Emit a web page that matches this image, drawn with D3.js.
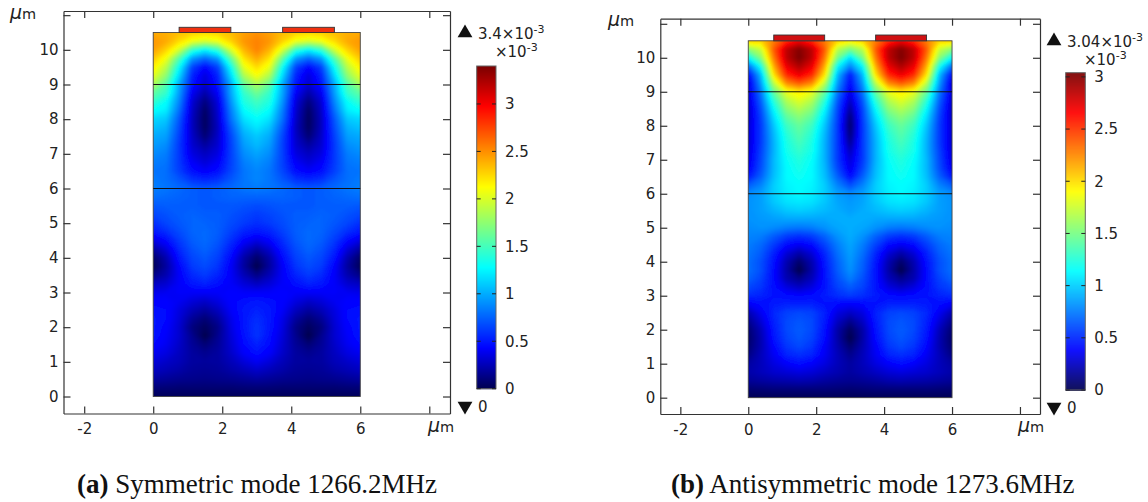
<!DOCTYPE html>
<html>
  <head>
    <meta charset="UTF-8">
    <title>Symmetric and antisymmetric modes</title>
    <script src="https://d3js.org/d3.v7.min.js"></script>
    <style>
      body { margin: 0; background: #fff; }
      text { font-family: "DejaVu Sans", sans-serif; fill: #222; }
      .caption { font-family: "Liberation Serif", serif; font-size: 27px; fill: #111; }
    </style>
  </head>
  <body>
    <svg width="1148" height="502"></svg>

    <script>

// displacement, in units of 1e-3, top row is y = 10.5 and
// each row steps 0.25 um down. columns are xHalf, the right half mirrors them.
const xHalf = [0, 0.375, 0.75, 1.125, 1.5, 1.875, 2.25, 2.625, 3];
const yRows = d3.range(0, 43).map(i => 10.5 - i * 0.25);

const fieldA = [
  [2.42, 2.40, 2.35, 2.30, 2.28, 2.30, 2.36, 2.45, 2.50],
  [2.48, 2.42, 2.25, 2.08, 2.00, 2.08, 2.28, 2.48, 2.55],
  [2.45, 2.28, 1.98, 1.45, 1.25, 1.45, 2.00, 2.38, 2.55],
  [2.32, 2.08, 1.55, 0.95, 0.78, 0.95, 1.60, 2.22, 2.42],
  [2.18, 1.90, 1.30, 0.65, 0.45, 0.65, 1.30, 2.05, 2.25],
  [2.05, 1.75, 1.15, 0.55, 0.35, 0.55, 1.15, 1.85, 2.10],
  [1.85, 1.55, 1.00, 0.50, 0.32, 0.50, 1.00, 1.60, 1.85],
  [1.60, 1.45, 0.95, 0.40, 0.22, 0.42, 0.98, 1.45, 1.65],
  [1.45, 1.30, 0.88, 0.33, 0.12, 0.35, 0.92, 1.38, 1.50],
  [1.30, 1.22, 0.80, 0.30, 0.06, 0.32, 0.85, 1.28, 1.40],
  [1.15, 1.10, 0.72, 0.28, 0.04, 0.30, 0.80, 1.18, 1.28],
  [1.08, 1.02, 0.68, 0.28, 0.05, 0.28, 0.72, 1.08, 1.20],
  [1.00, 0.96, 0.64, 0.30, 0.10, 0.30, 0.66, 1.00, 1.10],
  [0.95, 0.90, 0.62, 0.32, 0.20, 0.32, 0.64, 0.95, 1.05],
  [0.90, 0.85, 0.62, 0.36, 0.28, 0.36, 0.64, 0.90, 0.98],
  [0.85, 0.82, 0.62, 0.42, 0.34, 0.42, 0.64, 0.85, 0.92],
  [0.82, 0.80, 0.64, 0.48, 0.42, 0.48, 0.66, 0.82, 0.88],
  [0.84, 0.80, 0.72, 0.60, 0.56, 0.60, 0.72, 0.82, 0.88],
  [0.85, 0.82, 0.78, 0.74, 0.72, 0.74, 0.78, 0.82, 0.84],
  [0.80, 0.78, 0.76, 0.74, 0.72, 0.74, 0.76, 0.76, 0.76],
  [0.72, 0.74, 0.74, 0.74, 0.72, 0.72, 0.72, 0.70, 0.68],
  [0.66, 0.70, 0.74, 0.76, 0.74, 0.74, 0.70, 0.66, 0.62],
  [0.58, 0.66, 0.72, 0.76, 0.76, 0.74, 0.68, 0.62, 0.58],
  [0.50, 0.58, 0.68, 0.76, 0.78, 0.74, 0.64, 0.54, 0.50],
  [0.36, 0.46, 0.62, 0.74, 0.78, 0.72, 0.58, 0.44, 0.36],
  [0.20, 0.34, 0.56, 0.70, 0.76, 0.68, 0.52, 0.32, 0.20],
  [0.07, 0.24, 0.50, 0.66, 0.72, 0.64, 0.46, 0.22, 0.07],
  [0.03, 0.20, 0.44, 0.62, 0.68, 0.60, 0.42, 0.20, 0.00],
  [0.14, 0.24, 0.42, 0.56, 0.62, 0.54, 0.42, 0.26, 0.14],
  [0.28, 0.32, 0.42, 0.50, 0.54, 0.48, 0.42, 0.34, 0.28],
  [0.38, 0.40, 0.42, 0.42, 0.42, 0.42, 0.44, 0.42, 0.42],
  [0.44, 0.44, 0.40, 0.34, 0.30, 0.36, 0.44, 0.48, 0.50],
  [0.48, 0.46, 0.36, 0.26, 0.20, 0.28, 0.42, 0.50, 0.54],
  [0.50, 0.46, 0.34, 0.18, 0.10, 0.20, 0.38, 0.50, 0.58],
  [0.50, 0.44, 0.32, 0.12, 0.04, 0.14, 0.36, 0.50, 0.60],
  [0.50, 0.42, 0.32, 0.16, 0.00, 0.16, 0.34, 0.48, 0.60],
  [0.46, 0.40, 0.30, 0.18, 0.10, 0.18, 0.32, 0.46, 0.54],
  [0.40, 0.36, 0.28, 0.20, 0.16, 0.20, 0.30, 0.42, 0.48],
  [0.34, 0.30, 0.26, 0.20, 0.19, 0.20, 0.26, 0.34, 0.40],
  [0.28, 0.25, 0.22, 0.18, 0.17, 0.18, 0.22, 0.26, 0.30],
  [0.20, 0.18, 0.16, 0.15, 0.14, 0.15, 0.16, 0.18, 0.20],
  [0.10, 0.10, 0.09, 0.09, 0.09, 0.09, 0.09, 0.10, 0.10],
  [0.03, 0.03, 0.03, 0.03, 0.03, 0.03, 0.03, 0.03, 0.03]
];

const fieldB = [
  [2.05, 2.05, 2.30, 2.55, 2.70, 2.55, 2.30, 2.05, 1.95],
  [1.55, 1.75, 2.40, 2.85, 3.02, 2.85, 2.40, 1.70, 1.50],
  [1.15, 1.55, 2.30, 2.85, 3.04, 2.85, 2.30, 1.50, 1.05],
  [0.70, 1.20, 2.15, 2.72, 2.90, 2.72, 2.15, 1.15, 0.78],
  [0.40, 0.95, 1.98, 2.55, 2.72, 2.55, 1.98, 0.95, 0.46],
  [0.30, 0.85, 1.70, 2.25, 2.40, 2.25, 1.70, 0.85, 0.40],
  [0.30, 0.75, 1.45, 1.85, 1.96, 1.85, 1.45, 0.75, 0.34],
  [0.28, 0.68, 1.28, 1.68, 1.82, 1.68, 1.28, 0.66, 0.26],
  [0.26, 0.62, 1.15, 1.55, 1.68, 1.55, 1.15, 0.60, 0.18],
  [0.26, 0.58, 1.05, 1.42, 1.55, 1.42, 1.05, 0.58, 0.10],
  [0.28, 0.56, 0.98, 1.32, 1.45, 1.32, 0.98, 0.56, 0.07],
  [0.28, 0.56, 0.94, 1.26, 1.40, 1.26, 0.94, 0.56, 0.10],
  [0.28, 0.56, 0.92, 1.22, 1.35, 1.22, 0.92, 0.56, 0.16],
  [0.30, 0.58, 0.92, 1.20, 1.30, 1.20, 0.92, 0.56, 0.24],
  [0.32, 0.60, 0.94, 1.16, 1.25, 1.16, 0.92, 0.56, 0.30],
  [0.36, 0.62, 0.94, 1.14, 1.22, 1.14, 0.94, 0.60, 0.34],
  [0.46, 0.68, 0.96, 1.14, 1.18, 1.14, 0.96, 0.68, 0.42],
  [0.66, 0.78, 1.00, 1.12, 1.15, 1.12, 1.00, 0.78, 0.62],
  [0.80, 0.86, 1.00, 1.10, 1.14, 1.10, 1.00, 0.86, 0.80],
  [0.82, 0.86, 0.98, 1.06, 1.08, 1.06, 0.98, 0.88, 0.84],
  [0.82, 0.86, 0.92, 0.98, 1.00, 0.98, 0.94, 0.90, 0.86],
  [0.82, 0.84, 0.86, 0.88, 0.88, 0.88, 0.88, 0.90, 0.90],
  [0.80, 0.82, 0.80, 0.76, 0.74, 0.76, 0.82, 0.88, 0.90],
  [0.78, 0.76, 0.66, 0.56, 0.52, 0.56, 0.68, 0.82, 0.90],
  [0.76, 0.70, 0.56, 0.42, 0.36, 0.42, 0.58, 0.76, 0.88],
  [0.74, 0.66, 0.48, 0.30, 0.20, 0.30, 0.50, 0.72, 0.86],
  [0.72, 0.62, 0.44, 0.22, 0.07, 0.22, 0.46, 0.68, 0.84],
  [0.72, 0.62, 0.42, 0.20, 0.00, 0.20, 0.44, 0.66, 0.82],
  [0.68, 0.58, 0.42, 0.22, 0.14, 0.24, 0.44, 0.62, 0.76],
  [0.60, 0.54, 0.42, 0.32, 0.26, 0.32, 0.44, 0.58, 0.66],
  [0.52, 0.48, 0.44, 0.42, 0.40, 0.42, 0.46, 0.52, 0.56],
  [0.36, 0.42, 0.46, 0.48, 0.48, 0.48, 0.44, 0.40, 0.38],
  [0.22, 0.36, 0.50, 0.58, 0.60, 0.58, 0.48, 0.32, 0.26],
  [0.14, 0.30, 0.48, 0.60, 0.64, 0.60, 0.46, 0.26, 0.14],
  [0.08, 0.24, 0.46, 0.60, 0.66, 0.60, 0.44, 0.20, 0.04],
  [0.06, 0.22, 0.44, 0.58, 0.64, 0.58, 0.42, 0.20, 0.00],
  [0.08, 0.22, 0.40, 0.54, 0.60, 0.54, 0.38, 0.22, 0.08],
  [0.12, 0.24, 0.36, 0.48, 0.52, 0.48, 0.36, 0.24, 0.14],
  [0.18, 0.24, 0.32, 0.38, 0.42, 0.38, 0.32, 0.24, 0.18],
  [0.20, 0.24, 0.28, 0.30, 0.32, 0.30, 0.26, 0.22, 0.18],
  [0.16, 0.18, 0.20, 0.21, 0.22, 0.21, 0.18, 0.16, 0.15],
  [0.08, 0.09, 0.10, 0.10, 0.10, 0.10, 0.10, 0.09, 0.08],
  [0.02, 0.02, 0.02, 0.02, 0.02, 0.02, 0.02, 0.02, 0.02]
];

const xTicks = [-2, 0, 2, 4, 6, 8];
const xLabels = [-2, 0, 2, 4, 6];
const yTicks = [0, 1, 2, 3, 4, 5, 6, 7, 8, 9, 10, 11];
const yLabels = [0, 1, 2, 3, 4, 5, 6, 7, 8, 9, 10];
const layerLines = [9, 6];
const electrodes = [[0.75, 2.25], [3.75, 5.25]];
const barTicksA = [0, 0.5, 1, 1.5, 2, 2.5, 3];
const barTicksB = [0, 0.5, 1, 1.5, 2, 2.5, 3];

const svg = d3.select("svg");
const defs = svg.append("defs");

defs.append("filter").attr("id", "soft")
  .attr("x", "-5%").attr("y", "-5%").attr("width", "110%").attr("height", "110%")
  .append("feGaussianBlur").attr("stdDeviation", 1.6);

function jet(max) {
  return d3.scaleLinear()
    .domain([0, 0.125, 0.375, 0.625, 0.875, 1].map(f => f * max))
    .range(["#000050", "#0000ff", "#00ffff", "#ffff00", "#ff0000", "#7a0000"])
    .clamp(true);
}

function drawPanel(p) {
  const x = d3.scaleLinear().domain(p.xDomain).range([p.left, p.right]);
  const y = d3.scaleLinear().domain(p.yDomain).range([p.bottom, p.top]);
  const color = jet(p.max);
  const g = svg.append("g");

  // mirror the half field into the full 0..6 width
  const full = p.field.map(row => row.concat(row.slice(0, -1).reverse()));
  const nx = full[0].length;
  const dx = xHalf[1] - xHalf[0];
  const dy = yRows[0] - yRows[1];

  const toPixels = d3.geoTransform({
    point(gx, gy) {
      this.stream.point(x((gx - 0.5) * dx), y(yRows[0] - (gy - 0.5) * dy));
    }
  });

  const thresholds = d3.range(0.01, p.max, 0.015);
  const contours = d3.contours()
    .size([nx, full.length])
    .thresholds(thresholds)(full.flat());

  defs.append("clipPath").attr("id", p.id)
    .append("rect")
    .attr("x", x(0)).attr("y", y(10.5))
    .attr("width", x(6) - x(0)).attr("height", y(0) - y(10.5));

  const field = g.append("g").attr("clip-path", `url(#${p.id})`)
    .append("g").attr("filter", "url(#soft)");
  field.append("rect")
    .attr("x", x(0) - 10).attr("y", y(10.5) - 10)
    .attr("width", x(6) - x(0) + 20).attr("height", y(0) - y(10.5) + 20)
    .attr("fill", color(0));
  field.selectAll("path")
    .data(contours)
    .join("path")
    .attr("d", d3.geoPath(toPixels))
    .attr("fill", d => color(d.value));

  // geometry outline
  g.append("rect")
    .attr("x", x(0)).attr("y", y(10.5))
    .attr("width", x(6) - x(0)).attr("height", y(0) - y(10.5))
    .attr("fill", "none").attr("stroke", "#444").attr("stroke-width", 0.9);
  g.selectAll(".layer")
    .data(layerLines)
    .join("line")
    .attr("x1", x(0)).attr("x2", x(6))
    .attr("y1", d => y(d)).attr("y2", d => y(d))
    .attr("stroke", "#111").attr("stroke-width", 1);
  g.selectAll(".electrode")
    .data(electrodes)
    .join("rect")
    .attr("x", d => x(d[0])).attr("y", y(p.electrodeTop))
    .attr("width", d => x(d[1]) - x(d[0])).attr("height", y(10.5) - y(p.electrodeTop))
    .attr("fill", p.electrodeFill).attr("stroke", "#333").attr("stroke-width", 0.9);

  // frame with inward ticks on all four sides
  const styleAxis = a => {
    a.selectAll("path,line").attr("stroke", "#333").attr("stroke-width", 1.2);
    a.selectAll("text").attr("font-size", 15).attr("font-family", null).attr("fill", null);
  };
  g.append("g").attr("transform", `translate(0,${p.bottom})`)
    .call(d3.axisBottom(x).tickValues(xTicks).tickSizeInner(-7).tickSizeOuter(0).tickPadding(10)
      .tickFormat(d => xLabels.includes(d) ? d : ""))
    .call(styleAxis);
  g.append("g").attr("transform", `translate(0,${p.top})`)
    .call(d3.axisTop(x).tickValues(xTicks).tickSizeInner(-7).tickSizeOuter(0).tickFormat(""))
    .call(styleAxis);
  g.append("g").attr("transform", `translate(${p.left},0)`)
    .call(d3.axisLeft(y).tickValues(yTicks).tickSizeInner(-7).tickSizeOuter(0).tickPadding(5)
      .tickFormat(d => yLabels.includes(d) ? d : ""))
    .call(styleAxis);
  g.append("g").attr("transform", `translate(${p.right},0)`)
    .call(d3.axisRight(y).tickValues(yTicks).tickSizeInner(-7).tickSizeOuter(0).tickFormat(""))
    .call(styleAxis);

  const unit = (ux, uy) => {
    const t = g.append("text").attr("x", ux).attr("y", uy).attr("font-size", 14.5);
    t.append("tspan").attr("font-style", "italic").attr("font-size", 19).text("μ");
    t.append("tspan").text("m");
  };
  unit(p.unitY[0], p.unitY[1]);
  unit(p.unitX[0], p.unitX[1]);

  // colour bar
  const bar = d3.scaleLinear().domain([0, p.max]).range([p.barBottom, p.barTop]);
  const steps = d3.range(0, p.barBottom - p.barTop);
  g.selectAll(".bar")
    .data(steps)
    .join("rect")
    .attr("x", p.barLeft).attr("width", p.barRight - p.barLeft)
    .attr("y", d => p.barTop + d).attr("height", 1.2)
    .attr("fill", d => color(bar.invert(p.barTop + d + 0.5)));
  g.append("rect")
    .attr("x", p.barLeft).attr("y", p.barTop)
    .attr("width", p.barRight - p.barLeft).attr("height", p.barBottom - p.barTop)
    .attr("fill", "none").attr("stroke", "#666").attr("stroke-width", 1);
  const barAxis = g.append("g").attr("transform", `translate(${p.barRight},0)`)
    .call(d3.axisRight(bar).tickValues(p.barTicks).tickSize(0).tickPadding(9).tickFormat(d => d));
  barAxis.select(".domain").remove();
  barAxis.selectAll("text").attr("font-size", 15).attr("font-family", null).attr("fill", null);
  g.selectAll(".barTick")
    .data(p.barTicks.flatMap(d => [[p.barLeft, p.barLeft + 4, d], [p.barRight - 4, p.barRight, d]]))
    .join("line")
    .attr("x1", d => d[0]).attr("x2", d => d[1])
    .attr("y1", d => bar(d[2])).attr("y2", d => bar(d[2]))
    .attr("stroke", "#222").attr("stroke-width", 1);

  // max and min markers
  const tri = d3.symbol().type(d3.symbolTriangle).size(95);
  g.append("path").attr("d", tri).attr("fill", "#111")
    .attr("transform", `translate(${p.markX},${p.maxY})`);
  g.append("path").attr("d", tri).attr("fill", "#111")
    .attr("transform", `translate(${p.markX},${p.minY}) rotate(180)`);
  const sci = (sx, sy, mant) => {
    const t = g.append("text").attr("x", sx).attr("y", sy).attr("font-size", 15);
    t.append("tspan").text(mant + "×10");
    t.append("tspan").attr("dy", -6).attr("font-size", 11).text("-3");
  };
  sci(p.markX + 13, p.maxY + 6, p.maxLabel);
  sci(p.expX, p.maxY + 24, "");
  g.append("text").attr("x", p.markX + 13).attr("y", p.minY + 6)
    .attr("font-size", 15).text("0");

  // caption
  const cap = svg.append("text").attr("class", "caption").attr("x", p.capX).attr("y", 493);
  cap.append("tspan").attr("font-weight", "bold").text(p.capTag);
  cap.append("tspan").text(" " + p.capText);
}

drawPanel({
  id: "clipA", field: fieldA, max: 3.4, maxLabel: "3.4",
  xDomain: [-2.6, 8.6], yDomain: [-0.49, 11.12],
  left: 63.5, right: 450, top: 11, bottom: 413.5,
  electrodeTop: 10.65, electrodeFill: "#f0300f",
  unitX: [428, 432], unitY: [10, 19],
  barLeft: 476.7, barRight: 496, barTop: 66, barBottom: 388.7, barTicks: barTicksA,
  markX: 465, maxY: 33, minY: 406, expX: 495,
  capX: 77, capTag: "(a)", capText: "Symmetric mode 1266.2MHz"
});

drawPanel({
  id: "clipB", field: fieldB, max: 3.04, maxLabel: "3.04",
  xDomain: [-2.59, 8.59], yDomain: [-0.48, 11.15],
  left: 660.3, right: 1040, top: 18.7, bottom: 414,
  electrodeTop: 10.67, electrodeFill: "#d01012",
  unitX: [1018, 432], unitY: [608, 26],
  barLeft: 1065.7, barRight: 1085.3, barTop: 72.7, barBottom: 390, barTicks: barTicksB,
  markX: 1054, maxY: 41, minY: 407, expX: 1084,
  capX: 671, capTag: "(b)", capText: "Antisymmetric mode 1273.6MHz"
});

    </script>
  </body>
</html>
